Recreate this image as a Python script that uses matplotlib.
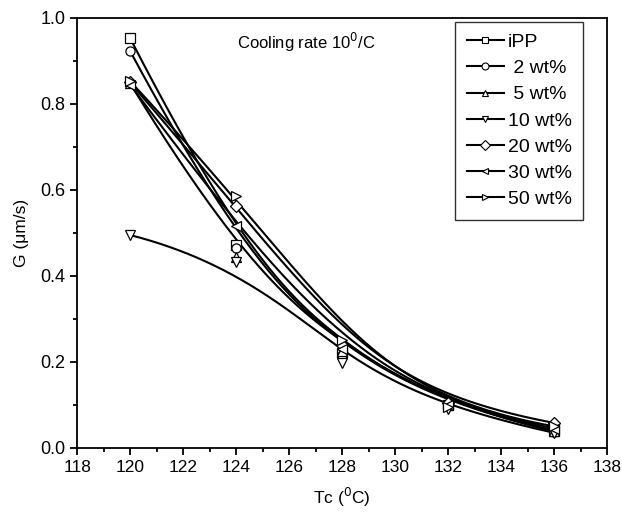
import numpy as np
import matplotlib
matplotlib.use("Agg")
import matplotlib.pyplot as plt
from matplotlib.ticker import MultipleLocator, FormatStrFormatter

plt.rcParams['font.family'] = ['Liberation Sans', 'DejaVu Sans']

tc = [120, 124, 128, 132, 136]
labels = ["iPP", " 2 wt%", " 5 wt%", "10 wt%", "20 wt%", "30 wt%", "50 wt%"]
markers = ["s", "o", "^", "v", "D", "<", ">"]
g_ipp = [0.953, 0.472, 0.220, 0.100, 0.040]
g_2 = [0.923, 0.465, 0.215, 0.100, 0.038]
g_5 = [0.848, 0.445, 0.225, 0.100, 0.040]
g_10 = [0.495, 0.432, 0.197, 0.090, 0.035]
g_20 = [0.850, 0.563, 0.240, 0.105, 0.058]
g_30 = [0.845, 0.515, 0.230, 0.100, 0.045]
g_50 = [0.853, 0.587, 0.250, 0.095, 0.050]
series = [g_ipp, g_2, g_5, g_10, g_20, g_30, g_50]


def bspline(x, y, n=300):
    """Clamped cubic B-spline using the data points as control points."""
    P = np.column_stack([np.asarray(x, float), np.asarray(y, float)])
    m = len(P)
    k = min(3, m - 1)
    knots = np.concatenate([np.zeros(k), np.linspace(0, 1, m - k + 1), np.ones(k)])
    t = np.linspace(0, 1, n)
    t[-1] = 1 - 1e-12
    N = np.zeros((n, len(knots) - 1))
    for i in range(len(knots) - 1):
        N[:, i] = ((t >= knots[i]) & (t < knots[i + 1])).astype(float)
    for d in range(1, k + 1):
        Nn = np.zeros((n, len(knots) - 1 - d))
        for i in range(len(knots) - 1 - d):
            a = knots[i + d] - knots[i]
            b = knots[i + d + 1] - knots[i + 1]
            left = (t - knots[i]) / a * N[:, i] if a > 0 else 0
            right = (knots[i + d + 1] - t) / b * N[:, i + 1] if b > 0 else 0
            Nn[:, i] = left + right
        N = Nn
    C = N @ P
    return C[:, 0], C[:, 1]


fig = plt.figure(figsize=(6.22, 5.13), dpi=100)
ax = fig.add_axes([0.124, 0.127, 0.852, 0.838])

handles = []
for vals, m, lab in zip(series, markers, labels):
    xs, ys = bspline(tc, vals)
    ax.plot(xs, ys, color='black', lw=1.5, zorder=2)
    ms = 5.8 if m == 'D' else 6.6
    ax.plot(tc, vals, linestyle='none', marker=m, ms=ms, mfc='white',
            mec='black', mew=0.9, zorder=3)
    h, = ax.plot([], [], color='black', lw=1.5, marker=m, ms=5, mfc='white',
                 mec='black', mew=0.8, label=lab)
    handles.append(h)

ax.set_xlim(118, 138)
ax.set_ylim(0.0, 1.0)
ax.xaxis.set_major_locator(MultipleLocator(2))
ax.xaxis.set_minor_locator(MultipleLocator(1))
ax.yaxis.set_major_locator(MultipleLocator(0.2))
ax.yaxis.set_minor_locator(MultipleLocator(0.1))
ax.yaxis.set_major_formatter(FormatStrFormatter('%.1f'))
ax.tick_params(which='major', direction='out', length=5, width=1.3,
               labelsize=12.5, top=False, right=False)
ax.tick_params(axis='y', which='major', labelsize=13)
ax.tick_params(which='minor', direction='out', length=3, width=1.3,
               top=False, right=False)
for s in ax.spines.values():
    s.set_linewidth(1.3)

ax.set_xlabel("Tc ($^0$C)", fontsize=12.5, labelpad=8)
ax.set_ylabel("G (\u03bcm/s)", fontsize=12.5, labelpad=8)
ax.text(0.302, 0.942, "Cooling rate 10$^0$/C", transform=ax.transAxes,
        fontsize=12, ha='left', va='center')

leg = ax.legend(handles=handles, loc='upper right', bbox_to_anchor=(0.955, 0.991),
                fontsize=14, frameon=True, fancybox=False, edgecolor='black',
                handlelength=1.9, handletextpad=0.2, labelspacing=0.44,
                borderpad=0.6, borderaxespad=0)
leg.get_frame().set_linewidth(1.0)

fig.savefig("out.png", dpi=100)
